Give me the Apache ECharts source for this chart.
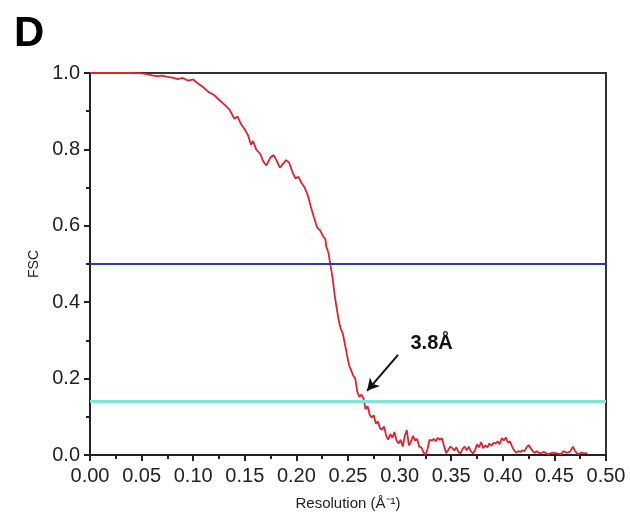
<!DOCTYPE html>
<html lang="en">
<head>
  <meta charset="UTF-8">
  <title>FSC curve</title>
  <script type="text/javascript" src="https://cdn.jsdelivr.net/npm/echarts@6.0.0/dist/echarts.min.js"></script>
  <style type="text/css">
    * { margin: 0; padding: 0; }
    html, body { width: 100%; height: 100%; background-color: #fff; }
    #chart { width: 630px; height: 512px; }
  </style>
</head>
<body>
<div id="chart"></div>
<script type="text/javascript">
  // resolution (1/Å) and FSC
  var resolution = [
    0.000, 0.010, 0.020, 0.030, 0.040, 0.050, 0.055, 0.060, 0.065, 0.070,
    0.075, 0.080, 0.085, 0.090, 0.095, 0.100, 0.105, 0.110, 0.115, 0.120,
    0.125, 0.130, 0.135, 0.140, 0.143, 0.146, 0.150, 0.153, 0.156, 0.158,
    0.161, 0.165, 0.168, 0.171, 0.175, 0.178, 0.181, 0.184, 0.187, 0.190,
    0.193, 0.196, 0.199, 0.202, 0.205, 0.208, 0.211, 0.214, 0.217, 0.220,
    0.223, 0.226, 0.228, 0.229, 0.231, 0.233, 0.235, 0.237, 0.239, 0.241,
    0.243, 0.245, 0.247, 0.249, 0.251, 0.253, 0.255, 0.257, 0.259, 0.261,
    0.263, 0.265, 0.267, 0.269, 0.271, 0.273, 0.275, 0.277, 0.279, 0.281,
    0.283, 0.285, 0.287, 0.289, 0.291, 0.293, 0.295, 0.297, 0.299, 0.301,
    0.303, 0.305, 0.307, 0.309, 0.311, 0.313, 0.315, 0.317, 0.319, 0.321,
    0.323, 0.325, 0.327, 0.329, 0.331, 0.333, 0.335, 0.337, 0.339, 0.341,
    0.343, 0.345, 0.347, 0.349, 0.351, 0.353, 0.355, 0.357, 0.359, 0.361,
    0.363, 0.365, 0.367, 0.369, 0.371, 0.373, 0.375, 0.377, 0.379, 0.381,
    0.383, 0.385, 0.387, 0.389, 0.391, 0.393, 0.395, 0.397, 0.399, 0.401,
    0.403, 0.405, 0.407, 0.409, 0.411, 0.413, 0.415, 0.417, 0.419, 0.421,
    0.423, 0.425, 0.427, 0.429, 0.431, 0.433, 0.436, 0.440, 0.444, 0.448,
    0.452, 0.456, 0.459, 0.462, 0.465, 0.468, 0.470, 0.473, 0.476, 0.479,
    0.482
  ];
  var fsc = [
    1.000, 1.000, 1.000, 1.000, 1.000, 0.999, 0.997, 0.994, 0.992, 0.993,
    0.990, 0.988, 0.984, 0.987, 0.980, 0.983, 0.972, 0.962, 0.950, 0.943,
    0.930, 0.918, 0.905, 0.880, 0.886, 0.868, 0.852, 0.838, 0.812, 0.822,
    0.800, 0.788, 0.768, 0.758, 0.780, 0.785, 0.770, 0.752, 0.762, 0.772,
    0.765, 0.742, 0.724, 0.728, 0.712, 0.700, 0.680, 0.650, 0.622, 0.596,
    0.588, 0.572, 0.566, 0.545, 0.530, 0.497, 0.465, 0.420, 0.385, 0.352,
    0.330, 0.318, 0.290, 0.262, 0.235, 0.222, 0.208, 0.200, 0.165, 0.152,
    0.158, 0.148, 0.120, 0.128, 0.105, 0.098, 0.104, 0.082, 0.088, 0.070,
    0.066, 0.075, 0.050, 0.040, 0.055, 0.045, 0.060, 0.038, 0.030, 0.040,
    0.022, 0.050, 0.065, 0.025, 0.035, 0.050, 0.038, 0.042, 0.022, 0.020,
    0.008, 0.000, 0.015, 0.040, 0.038, 0.042, 0.036, 0.045, 0.040, 0.044,
    0.025, 0.005, 0.012, 0.022, 0.018, 0.012, 0.020, 0.008, 0.004, 0.016,
    0.022, 0.012, 0.022, 0.010, 0.004, 0.012, 0.028, 0.020, 0.034, 0.018,
    0.025, 0.020, 0.030, 0.024, 0.032, 0.030, 0.036, 0.028, 0.044, 0.038,
    0.046, 0.032, 0.036, 0.022, 0.012, 0.006, 0.010, 0.008, 0.012, 0.010,
    0.020, 0.026, 0.018, 0.010, 0.006, 0.010, 0.004, 0.008, 0.002, 0.006,
    0.004, 0.002, 0.010, 0.006, 0.008, 0.022, 0.010, 0.002, 0.006, 0.004,
    0.005
  ];
  // thresholds
  var halfBit = 0.5;
  var goldStd = 0.143;
  // annotation: arrow from [x, y] to [x, y], label position
  var arrowFrom = [0.2985, 0.262];
  var arrowTo = [0.2685, 0.168];
  var labelAt = [0.331, 0.293];
  var labelText = '3.8Å';

  var curve = resolution.map(function (x, i) { return [x, fsc[i]]; });

  var font = 'Liberation Sans, Arial, sans-serif';
  var myChart = echarts.init(document.getElementById('chart'));
  var option = {
    animation: false,
    title: {
      text: 'D',
      left: 9,
      top: 8,
      textStyle: { fontSize: 42, fontWeight: 'bold', color: '#000', fontFamily: font }
    },
    grid: {
      left: 90, right: 24, top: 73, bottom: 57,
      outerBoundsMode: 'none',
      show: true,
      borderColor: '#333',
      borderWidth: 2
    },
    xAxis: {
      type: 'value',
      min: 0, max: 0.5, interval: 0.05,
      name: 'Resolution (Å⁻¹)',
      nameLocation: 'middle',
      nameGap: 41,
      nameTextStyle: { fontSize: 15, color: '#222', fontFamily: font },
      axisLine: { lineStyle: { color: '#222', width: 2 } },
      axisTick: { show: true, length: 6, lineStyle: { color: '#222', width: 2 } },
      minorTick: { show: true, splitNumber: 2, length: 4, lineStyle: { color: '#222', width: 2 } },
      splitLine: { show: false },
      axisLabel: {
        margin: 11,
        fontSize: 20,
        color: '#222',
        fontFamily: font,
        formatter: function (v) { return v.toFixed(2); }
      }
    },
    yAxis: {
      type: 'value',
      min: 0, max: 1, interval: 0.2,
      name: 'FSC',
      nameLocation: 'middle',
      nameGap: 48,
      nameTextStyle: { fontSize: 14, color: '#222', fontFamily: font },
      axisLine: { show: true, lineStyle: { color: '#222', width: 2 } },
      axisTick: { show: true, length: 6, lineStyle: { color: '#222', width: 2 } },
      minorTick: { show: true, splitNumber: 2, length: 4, lineStyle: { color: '#222', width: 2 } },
      splitLine: { show: false },
      axisLabel: {
        margin: 10,
        fontSize: 20,
        color: '#222',
        fontFamily: font,
        formatter: function (v) { return v.toFixed(1); }
      }
    },
    series: [
      {
        type: 'line',
        data: curve,
        symbol: 'none',
        lineStyle: { color: '#e3232c', width: 1.8 },
        z: 3,
        markLine: {
          silent: true,
          symbol: 'none',
          label: { show: false },
          data: [
            { yAxis: halfBit, lineStyle: { color: '#2b3aaf', width: 2, type: 'solid' } },
            { yAxis: goldStd, lineStyle: { color: '#7de6d6', width: 3, type: 'solid' } },
            [
              { coord: arrowFrom, symbol: 'none' },
              { coord: arrowTo, symbol: 'arrow', symbolSize: [10, 12] }
            ]
          ],
          lineStyle: { color: '#111', width: 2, type: 'solid' }
        },
        markPoint: {
          silent: true,
          symbol: 'circle',
          symbolSize: 0,
          data: [{ coord: labelAt }],
          label: {
            show: true,
            position: 'inside',
            formatter: labelText,
            fontSize: 20,
            fontWeight: 'bold',
            color: '#111',
            fontFamily: font
          }
        }
      }
    ]
  };
  myChart.setOption(option);
</script>
</body>
</html>
